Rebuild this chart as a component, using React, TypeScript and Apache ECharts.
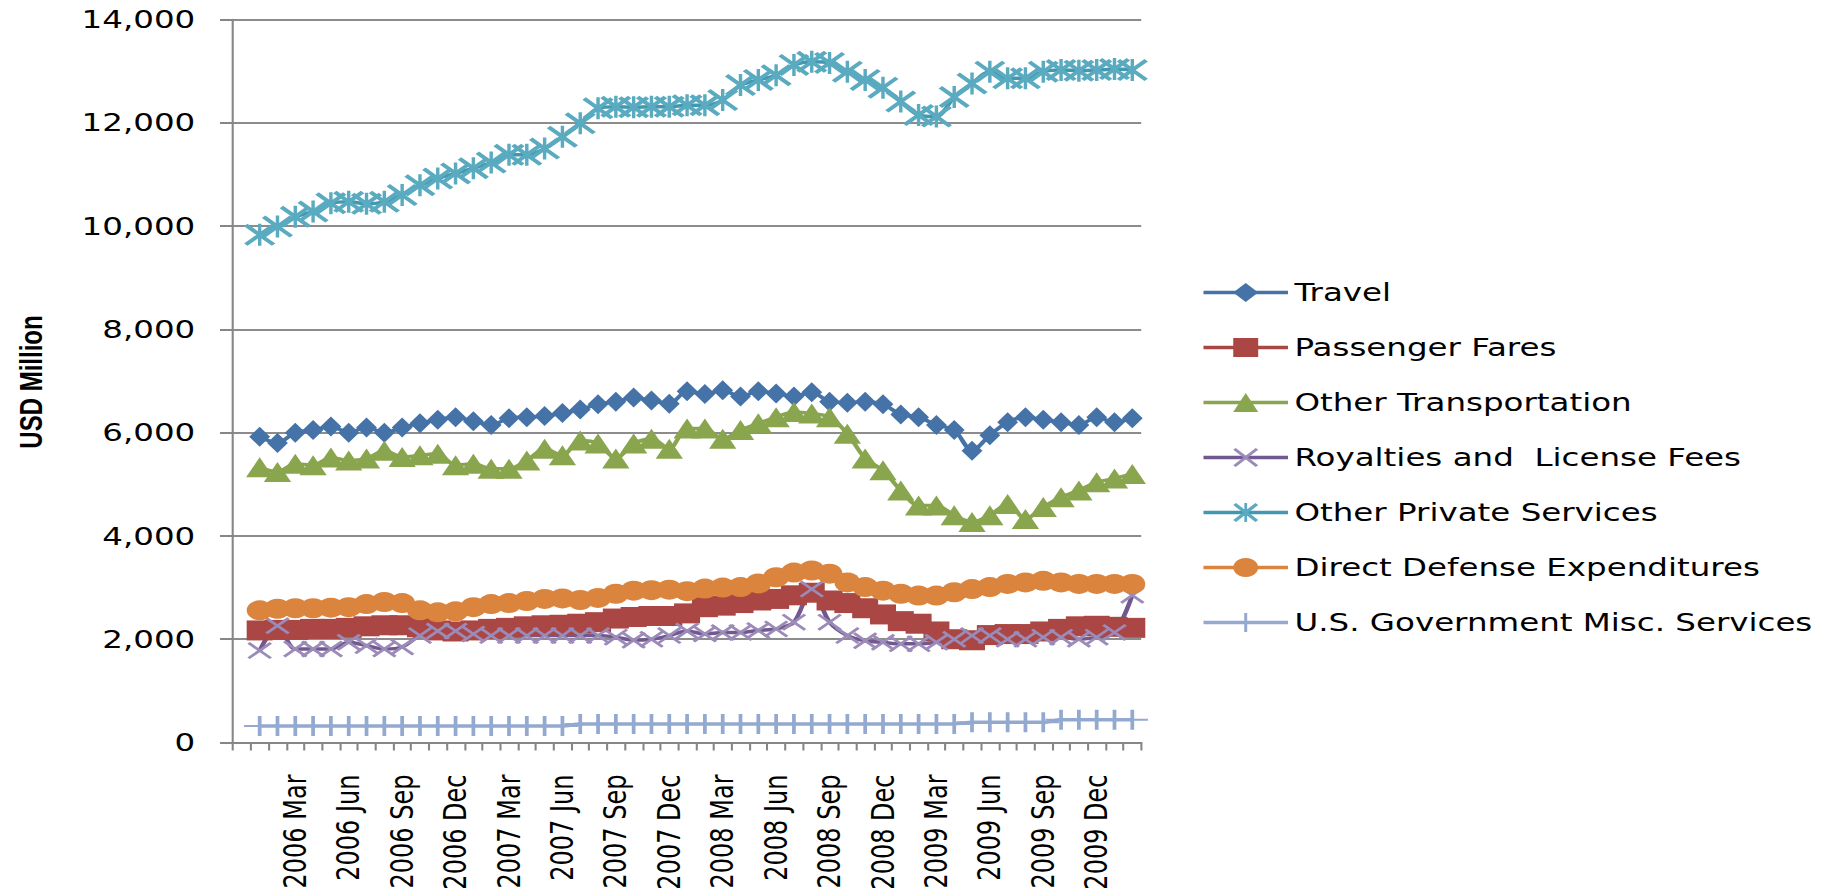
import React, { useEffect, useRef } from "react";
import * as echarts from "echarts";

// ---- data (monthly, 2006 Jan .. 2010 Feb; first axis slot is blank) ----
const YEARS = [2006, 2007, 2008, 2009, 2010];
const MONTHS = ["Jan", "Feb", "Mar", "Apr", "May", "Jun", "Jul", "Aug", "Sep", "Oct", "Nov", "Dec"];
const MONTH_COUNT = 50;

const SERIES_NAMES = [
  "Travel",
  "Passenger Fares",
  "Other Transportation",
  "Royalties and  License Fees",
  "Other Private Services",
  "Direct Defense Expenditures",
  "U.S. Government Misc. Services",
];

const travel = [
  5920, 5800, 6000, 6050, 6120, 6000, 6100, 6000, 6100, 6180, 6250, 6300,
  6220, 6150, 6280, 6300, 6320, 6380, 6450, 6550, 6600, 6680, 6620, 6560,
  6800, 6750, 6820, 6700, 6800, 6760, 6700, 6780, 6600, 6580, 6600, 6550,
  6350, 6300, 6150, 6050, 5650, 5950, 6200, 6300, 6250, 6200, 6150, 6300, 6200, 6280,
];
const passengerFares = [
  2170, 2180, 2180, 2200, 2200, 2220, 2250, 2270, 2270, 2230, 2170, 2150,
  2170, 2200, 2220, 2250, 2270, 2280, 2300, 2330, 2400, 2430, 2450, 2450,
  2500, 2620, 2650, 2700, 2750, 2780, 2850, 2900, 2750, 2700, 2600, 2480,
  2350, 2300, 2150, 2000, 1980, 2080, 2100, 2100, 2150, 2200, 2250, 2260, 2240, 2220,
];
const otherTransportation = [
  5330, 5240, 5400, 5370, 5520, 5460, 5500, 5650, 5530, 5560, 5590, 5370,
  5400, 5300, 5300, 5460, 5690, 5560, 5850, 5790, 5500, 5790, 5880, 5690,
  6080, 6080, 5880, 6050, 6180, 6300, 6400, 6370, 6300, 5980, 5500, 5270,
  4880, 4590, 4590, 4400, 4270, 4400, 4620, 4330, 4560, 4750, 4880, 5040, 5110, 5200,
];
const royalties = [
  1780, 2260, 1810, 1810, 1810, 1940, 1875, 1810, 1850, 2070, 2160, 2160,
  2100, 2070, 2070, 2070, 2070, 2070, 2070, 2070, 2040, 1980, 2000, 2070,
  2160, 2100, 2130, 2130, 2170, 2200, 2330, 2970, 2330, 2070, 1970, 1940,
  1910, 1910, 1940, 2000, 2070, 2070, 2000, 2000, 2040, 2040, 2000, 2040, 2130, 2850,
];
const otherPrivate = [
  9830, 9990, 10180, 10280, 10440, 10470, 10430, 10470, 10600, 10790, 10920, 11020,
  11120, 11230, 11380, 11380, 11500, 11730, 11990, 12280, 12310, 12300, 12310, 12310,
  12340, 12340, 12440, 12730, 12830, 12920, 13120, 13180, 13160, 12990, 12830, 12680,
  12410, 12150, 12120, 12500, 12760, 12990, 12860, 12860, 12990, 13020, 13010, 13020, 13040, 13020,
];
const defense = [
  2560, 2590, 2600, 2600, 2610, 2620, 2680, 2720, 2700, 2560, 2520, 2540,
  2620, 2680, 2700, 2740, 2780, 2790, 2760, 2800, 2880, 2940, 2950, 2960,
  2930, 2980, 3000, 3010, 3080, 3200, 3290, 3330, 3270, 3100, 3010, 2940,
  2880, 2845, 2845, 2910, 2970, 3010, 3070, 3100, 3130, 3100, 3070, 3070, 3070, 3070,
];
const govMisc = [
  320, 320, 320, 320, 320, 320, 320, 320, 320, 320, 320, 320,
  320, 320, 320, 320, 320, 320, 360, 360, 360, 360, 360, 360,
  360, 360, 360, 360, 360, 360, 360, 360, 360, 360, 360, 360,
  360, 360, 360, 360, 390, 390, 390, 390, 390, 440, 440, 440, 440, 440,
];

const Y_MIN = 0;
const Y_MAX = 14000;
const Y_STEP = 2000;
const Y_TITLE = "USD Million";

// ---- categories ----
const categories: string[] = [""];
for (let i = 0; i < MONTH_COUNT; i++) {
  const y = YEARS[Math.floor(i / 12)];
  categories.push(`${y} ${MONTHS[i % 12]}`);
}

// ---- layout (chart drawn narrow, then stretched horizontally like the reference) ----
const S = 1.3;
const W = 1838 / S;
const H = 891;

const SYM_X = "path://M0,1L1,0L10,9L9,10Z M9,0L10,1L1,10L0,9Z";
const SYM_STAR = "path://M0,1.1L1.1,0L10,8.9L8.9,10Z M8.9,0L10,1.1L1.1,10L0,8.9Z M4.45,0L5.55,0L5.55,10L4.45,10Z";
const SYM_PLUS = "path://M4.4,0L5.6,0L5.6,10L4.4,10Z M0,4.5L10,4.5L10,5.5L0,5.5Z";

export default function App() {
  const ref = useRef<HTMLDivElement>(null);

  useEffect(() => {
    if (!ref.current) return;
    const chart = echarts.init(ref.current, undefined, { renderer: "svg" });

    const defs = [
      { data: travel, color: "#4572A7", sym: "diamond", size: [16, 20], symColor: "#4572A7" },
      { data: passengerFares, color: "#AA4643", sym: "rect", size: [20, 20], symColor: "#AA4643" },
      { data: otherTransportation, color: "#89A54E", sym: "triangle", size: [21, 20], symColor: "#89A54E" },
      { data: royalties, color: "#71588F", sym: SYM_X, size: [19, 17], symColor: "#9c8ab8" },
      { data: otherPrivate, color: "#4198AF", sym: SYM_STAR, size: [24, 22], symColor: "#5aaac0" },
      { data: defense, color: "#DB843D", sym: "circle", size: [20, 20], symColor: "#DB843D" },
      { data: govMisc, color: "#93A9CF", sym: SYM_PLUS, size: [24, 20], symColor: "#93A9CF" },
    ];

    const series = defs.map((d, k) => ({
      name: SERIES_NAMES[k],
      type: "line",
      data: [null, ...d.data],
      smooth: 0.3,
      symbol: d.sym,
      symbolSize: d.size,
      showSymbol: true,
      showAllSymbol: true,
      lineStyle: { color: d.color, width: 3.5 },
      itemStyle: { color: d.symColor },
      emphasis: { disabled: true },
    }));

    chart.setOption({
      animation: false,
      backgroundColor: "#ffffff",
      textStyle: { fontFamily: "DejaVu Sans" },
      grid: {
        left: 179.2,
        right: W - 877.7,
        top: 19.5,
        bottom: H - 742.5,
        containLabel: false,
        outerBoundsMode: "none",
      },
      legend: {
        orient: "vertical",
        left: 919,
        top: 272.5,
        itemWidth: 65,
        itemHeight: 24,
        itemGap: 25,
        selectedMode: false,
        data: SERIES_NAMES,
        lineStyle: { width: 3.5 },
        textStyle: { fontFamily: "DejaVu Sans", fontSize: 25, color: "#000", lineHeight: 30 },
      },
      xAxis: {
        type: "category",
        data: categories,
        boundaryGap: true,
        axisLine: { show: true, lineStyle: { color: "#868686", width: 2 } },
        axisTick: { show: true, interval: 0, length: 8, lineStyle: { color: "#868686", width: 1.6 } },
        axisLabel: {
          interval: 2,
          rotate: 90,
          margin: 32,
          fontFamily: "DejaVu Sans",
          fontSize: 24,
          color: "#000",
        },
        splitLine: { show: false },
      },
      yAxis: {
        type: "value",
        min: Y_MIN,
        max: Y_MAX,
        interval: Y_STEP,
        axisLine: { show: true, lineStyle: { color: "#868686", width: 1.6 } },
        axisTick: { show: true, length: 10, lineStyle: { color: "#868686", width: 2 } },
        axisLabel: {
          margin: 29,
          fontFamily: "DejaVu Sans",
          fontSize: 25,
          color: "#000",
          formatter: (v: number) => v.toLocaleString("en-US"),
        },
        splitLine: { show: true, lineStyle: { color: "#8c8c8c", width: 2 } },
      },
      graphic: [
        {
          type: "text",
          x: 24,
          y: 382,
          rotation: Math.PI / 2,
          style: {
            text: Y_TITLE,
            fontFamily: "Liberation Sans",
            fontWeight: "bold",
            fontSize: 24,
            fill: "#000",
            align: "center",
            verticalAlign: "middle",
          },
        },
      ],
      series,
    });

    return () => chart.dispose();
  }, []);

  return (
    <div style={{ position: "fixed", left: 0, top: 0, width: 1838, height: 891, overflow: "hidden", background: "#fff" }}>
      <div
        ref={ref}
        style={{ width: W, height: H, transform: `scaleX(${S})`, transformOrigin: "0 0" }}
      />
    </div>
  );
}
